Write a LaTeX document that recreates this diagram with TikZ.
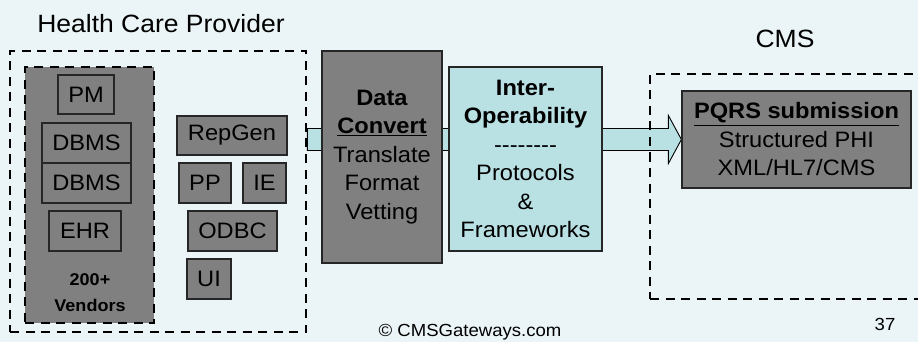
\documentclass[tikz,border=0pt]{standalone}
\usepackage{fontspec}
\setmainfont{Liberation Sans}[FakeStretch=1.06]
\pgfdeclarelayer{back}
\pgfdeclarelayer{mid}
\pgfsetlayers{back,mid,main}
\definecolor{bgcol}{HTML}{EBF5F7}
\definecolor{boxgray}{HTML}{808080}
\definecolor{cyanbox}{HTML}{B9E0E3}
\begin{document}
\begin{tikzpicture}[x=1pt,y=-1pt,
  boxtext/.style={font=\fontsize{22.3}{28.5}\selectfont},
  gbox/.style={boxtext, draw=black!85, line width=1.2pt, fill=boxgray, inner sep=0pt, align=center},
  cbox/.style={boxtext, draw=black!85, line width=1.2pt, fill=cyanbox, inner sep=0pt, align=center},
  dashbox/.style={draw=black, line width=2.6pt, dash pattern=on 9pt off 6.5pt, inner sep=0pt},
  title/.style={font=\fontsize{25}{30}\selectfont, anchor=base},
  small/.style={font=\fontsize{17.5}{22}\selectfont, anchor=base},
  blockarrow/.style={draw=black, line width=0.9pt, fill=cyanbox, line join=miter}
]
\begin{pgfonlayer}{back}
\fill[bgcol] (0,0) rectangle (918,342);
\end{pgfonlayer}
\clip (0,0) rectangle (918,342);

% titles
\node[title] (hcptitle) at (161,32.3) {Health Care Provider};
\node[title] (cmstitle) at (785,47.3) {CMS};

% containers
\node[dashbox, minimum width=296pt, minimum height=281pt] (hcp) at (158,191.5) {};
\node[dashbox, fill=boxgray, line width=2.2pt, minimum width=129pt, minimum height=256pt] (vend) at (89.5,195) {};
\node[dashbox, minimum width=290pt, minimum height=225pt] (cms) at (795,186.5) {};

% vendor modules
\node[gbox, minimum width=56pt, minimum height=39pt] (pm) at (86,94.5) {PM};
\node[gbox, minimum width=89pt, minimum height=40pt] (dbmsa) at (86.5,143) {DBMS};
\node[gbox, minimum width=89pt, minimum height=40pt] (dbmsb) at (86.5,183) {DBMS};
\node[gbox, minimum width=72pt, minimum height=40pt] (ehr) at (85,231) {EHR};
\node[font=\fontsize{17}{26}\selectfont\bfseries, align=center] (vtxt) at (90,293) {200+\\Vendors};

% other modules
\node[gbox, minimum width=110pt, minimum height=39pt] (repgen) at (232,135.5) {RepGen};
\node[gbox, minimum width=52pt, minimum height=40pt] (pp) at (205,183) {PP};
\node[gbox, minimum width=43pt, minimum height=40pt] (ie) at (264.5,183) {IE};
\node[gbox, minimum width=89pt, minimum height=40pt] (odbc) at (232.5,231) {ODBC};
\node[gbox, minimum width=44pt, minimum height=40pt] (ui) at (209,279) {UI};

% middle boxes
\node[gbox, minimum width=120pt, minimum height=212pt] (conv) at (382,157)
  {\textbf{Data}\\\textbf{\underline{Convert}}\\Translate\\Format\\Vetting};
\node[cbox, minimum width=153pt, minimum height=184pt] (interop) at (525.5,159)
  {\textbf{Inter-}\\\textbf{Operability}\\{-}{-}{-}{-}{-}{-}{-}{-}\\Protocols\\\&\\Frameworks};

% CMS box
\node[gbox, minimum width=229pt, minimum height=97pt] (pqrs) at (796.5,139.5)
  {\textbf{\underline{PQRS submission}}\\Structured PHI\\XML/HL7/CMS};

% block arrow
\coordinate (tail) at (hcp.east |- pqrs.west);
\begin{pgfonlayer}{mid}
\draw[blockarrow] ([yshift=11pt]tail) -- ([xshift=-13pt,yshift=11pt]pqrs.west)
  -- ([xshift=-13pt,yshift=24pt]pqrs.west) -- (pqrs.west)
  -- ([xshift=-13pt,yshift=-24pt]pqrs.west) -- ([xshift=-13pt,yshift=-11pt]pqrs.west)
  -- ([yshift=-11pt]tail) -- cycle;
\end{pgfonlayer}

% footer
\node[small] (copy) at (470,336.7) {\textcopyright{} CMSGateways.com};
\node[small] (page) at (885,330) {37};
\end{tikzpicture}
\end{document}
